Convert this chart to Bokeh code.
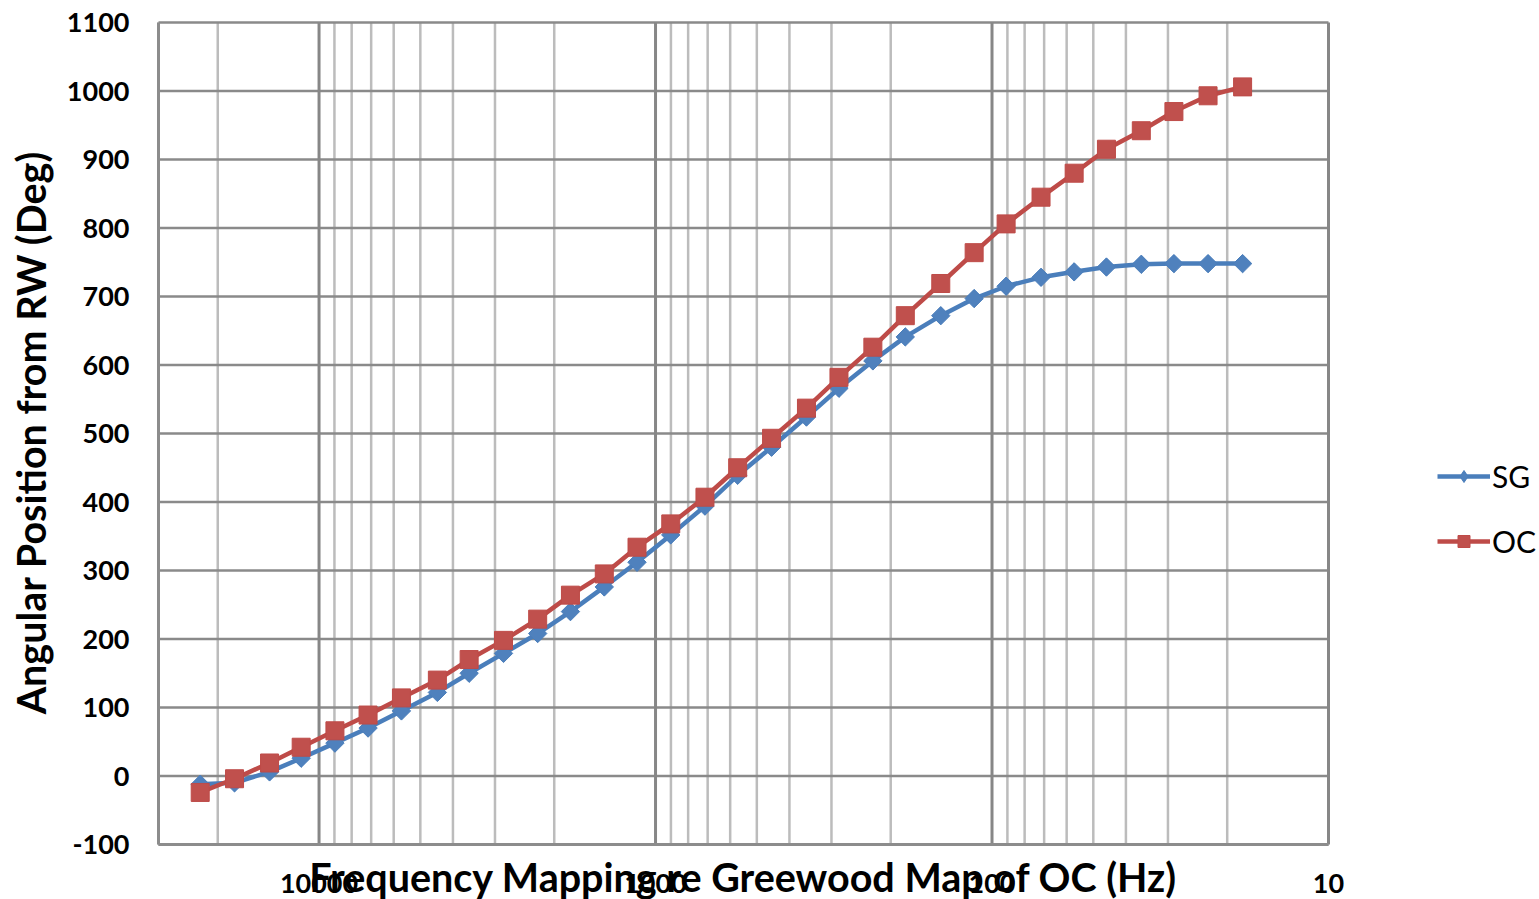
from bokeh.plotting import figure
from bokeh.models import (Range1d, Legend, LegendItem, ColumnDataSource, Label)
from bokeh.core.properties import value
from bokeh.embed import file_html
from bokeh.resources import INLINE
import numpy as np

# Greenwood-mapped frequency of each electrode position (Hz)
freq_hz = [22550, 17830, 14030, 11300, 8970, 7150, 5690, 4450, 3580, 2830,
           2240, 1790, 1420, 1135, 901, 713, 570, 452, 356, 285,
           226, 181, 142, 113, 90.8, 71.5, 57.0, 45.7, 36.0, 28.8,
           22.8, 18.0]

# Angular position from round window (degrees)
sg_deg = [-12, -10, 6, 26, 48, 70, 95, 122, 150, 179,
          208, 240, 276, 312, 352, 394, 439, 480, 524, 566,
          606, 641, 672, 697, 715, 728, 736, 743, 747, 748,
          748, 748]
oc_deg = [-24, -4, 19, 42, 66, 89, 114, 140, 170, 198,
          229, 264, 295, 334, 368, 407, 450, 493, 537, 582,
          626, 672, 719, 764, 806, 845, 880, 915, 942, 970,
          993, 1006]

x_major = [10, 100, 1000, 10000]
x_labels = ["10", "100", "1000", "10000"]
x_minor = [m * 10 ** k for k in range(1, 5) for m in range(2, 10)
           if m * 10 ** k <= 30000]
y_ticks = list(range(-100, 1101, 100))
y_labels = [str(t) for t in y_ticks]
X_HI, X_LO = 30000, 10          # plotted frequency span (reversed axis)
Y_LO, Y_HI = -100, 1100

FONT = "Lato"
W, H = 1539, 899
PLOT_LEFT, PLOT_RIGHT = 158, 1328   # pixel extent of the gridded area
PLOT_TOP, PLOT_BOTTOM = 22, 844

SG_LINE, SG_FILL = "#4A7EBB", "#4F81BD"
OC_LINE, OC_FILL = "#BE4B48", "#C0504D"

# One frame spans the whole canvas; the grid, axes and all texts are laid
# out on it with the same log / linear scales as the data.
px_per_decade = (PLOT_RIGHT - PLOT_LEFT) / np.log10(X_HI / X_LO)
px_per_deg = (PLOT_BOTTOM - PLOT_TOP) / (Y_HI - Y_LO)


def x_at(px):
    return X_HI / 10 ** ((px - PLOT_LEFT) / px_per_decade)


def y_at(px):
    return Y_HI - (px - PLOT_TOP) / px_per_deg


p = figure(width=W, height=H, x_axis_type="log",
           x_range=Range1d(x_at(0), x_at(W)), y_range=Range1d(y_at(H), y_at(0)),
           output_backend="svg", toolbar_location=None,
           x_axis_location=None, y_axis_location=None,
           min_border_left=0, min_border_right=0,
           min_border_top=0, min_border_bottom=0)
p.outline_line_color = None
p.background_fill_color = "white"
p.border_fill_color = "white"
p.xgrid.visible = False
p.ygrid.visible = False

n_min, n_maj, n_y = len(x_minor), len(x_major), len(y_ticks)

# minor vertical grid
p.segment(x0=x_minor, x1=x_minor, y0=[Y_LO] * n_min, y1=[Y_HI] * n_min,
          line_color="#bcbcbc", line_width=2.5)
# horizontal grid
p.segment(x0=[X_HI] * n_y, x1=[X_LO] * n_y, y0=y_ticks, y1=y_ticks,
          line_color="#8a8a8a", line_width=2.5)
# decade lines
p.segment(x0=x_major, x1=x_major, y0=[Y_LO] * n_maj, y1=[Y_HI] * n_maj,
          line_color="#878787", line_width=3)
# axis lines
p.segment(x0=[X_HI, X_HI], x1=[X_HI, X_LO], y0=[Y_LO, Y_LO], y1=[Y_HI, Y_LO],
          line_color="#8c8c8c", line_width=3)

src = ColumnDataSource(dict(f=freq_hz, sg=sg_deg, oc=oc_deg))

sg_line = p.line("f", "sg", source=src, line_color=SG_LINE, line_width=4.5)
# narrow diamond under each SG point; it serves as the legend key, since
# the legend draws markers unrotated
sg_key = p.scatter("f", "sg", source=src, marker="diamond", size=17,
                   fill_color=SG_FILL, line_color=SG_LINE)
sg_mark = p.scatter("f", "sg", source=src, marker="square", angle=np.pi / 4,
                    size=13, fill_color=SG_FILL, line_color=SG_LINE)
oc_line = p.line("f", "oc", source=src, line_color=OC_LINE, line_width=4.5)
oc_mark = p.scatter("f", "oc", source=src, marker="square", size=18,
                    fill_color=OC_FILL, line_color=OC_LINE)

tick_style = dict(text_font=value(FONT), text_font_style="bold",
                  text_font_size="27px", text_color="black",
                  text_baseline="middle")

# y tick labels
p.text(x=[x_at(129)] * n_y, y=y_ticks, text=y_labels,
       text_align="right", **tick_style)
# x tick labels
p.text(x=x_major, y=[y_at(883)] * n_maj, text=x_labels,
       text_align="center", **tick_style)

title_style = dict(text_font=FONT, text_font_style="bold",
                   text_font_size="39.5px", text_color="black",
                   text_align="center", text_baseline="middle")

# y title
p.add_layout(Label(x=x_at(30), y=y_at(432), angle=np.pi / 2,
                   text="Angular Position from RW (Deg)", **title_style))
# x title, centred on the gridded span and laid over the tick labels
p.add_layout(Label(x=np.sqrt(X_HI * X_LO), y=y_at(876),
                   text="Frequency Mapping re Greewood Map of OC (Hz)",
                   **title_style))

legend = Legend(items=[LegendItem(label="SG", renderers=[sg_line, sg_key]),
                       LegendItem(label="OC", renderers=[oc_line, oc_mark])],
                location=(1437, H - 559), orientation="vertical",
                glyph_width=53, glyph_height=30, label_height=30,
                label_standoff=2, spacing=29, padding=0, margin=0,
                border_line_color=None, background_fill_alpha=0,
                label_text_font=FONT, label_text_font_size="30px",
                label_text_color="black")
p.add_layout(legend, "center")

open("out.html", "w").write(file_html(p, INLINE))
